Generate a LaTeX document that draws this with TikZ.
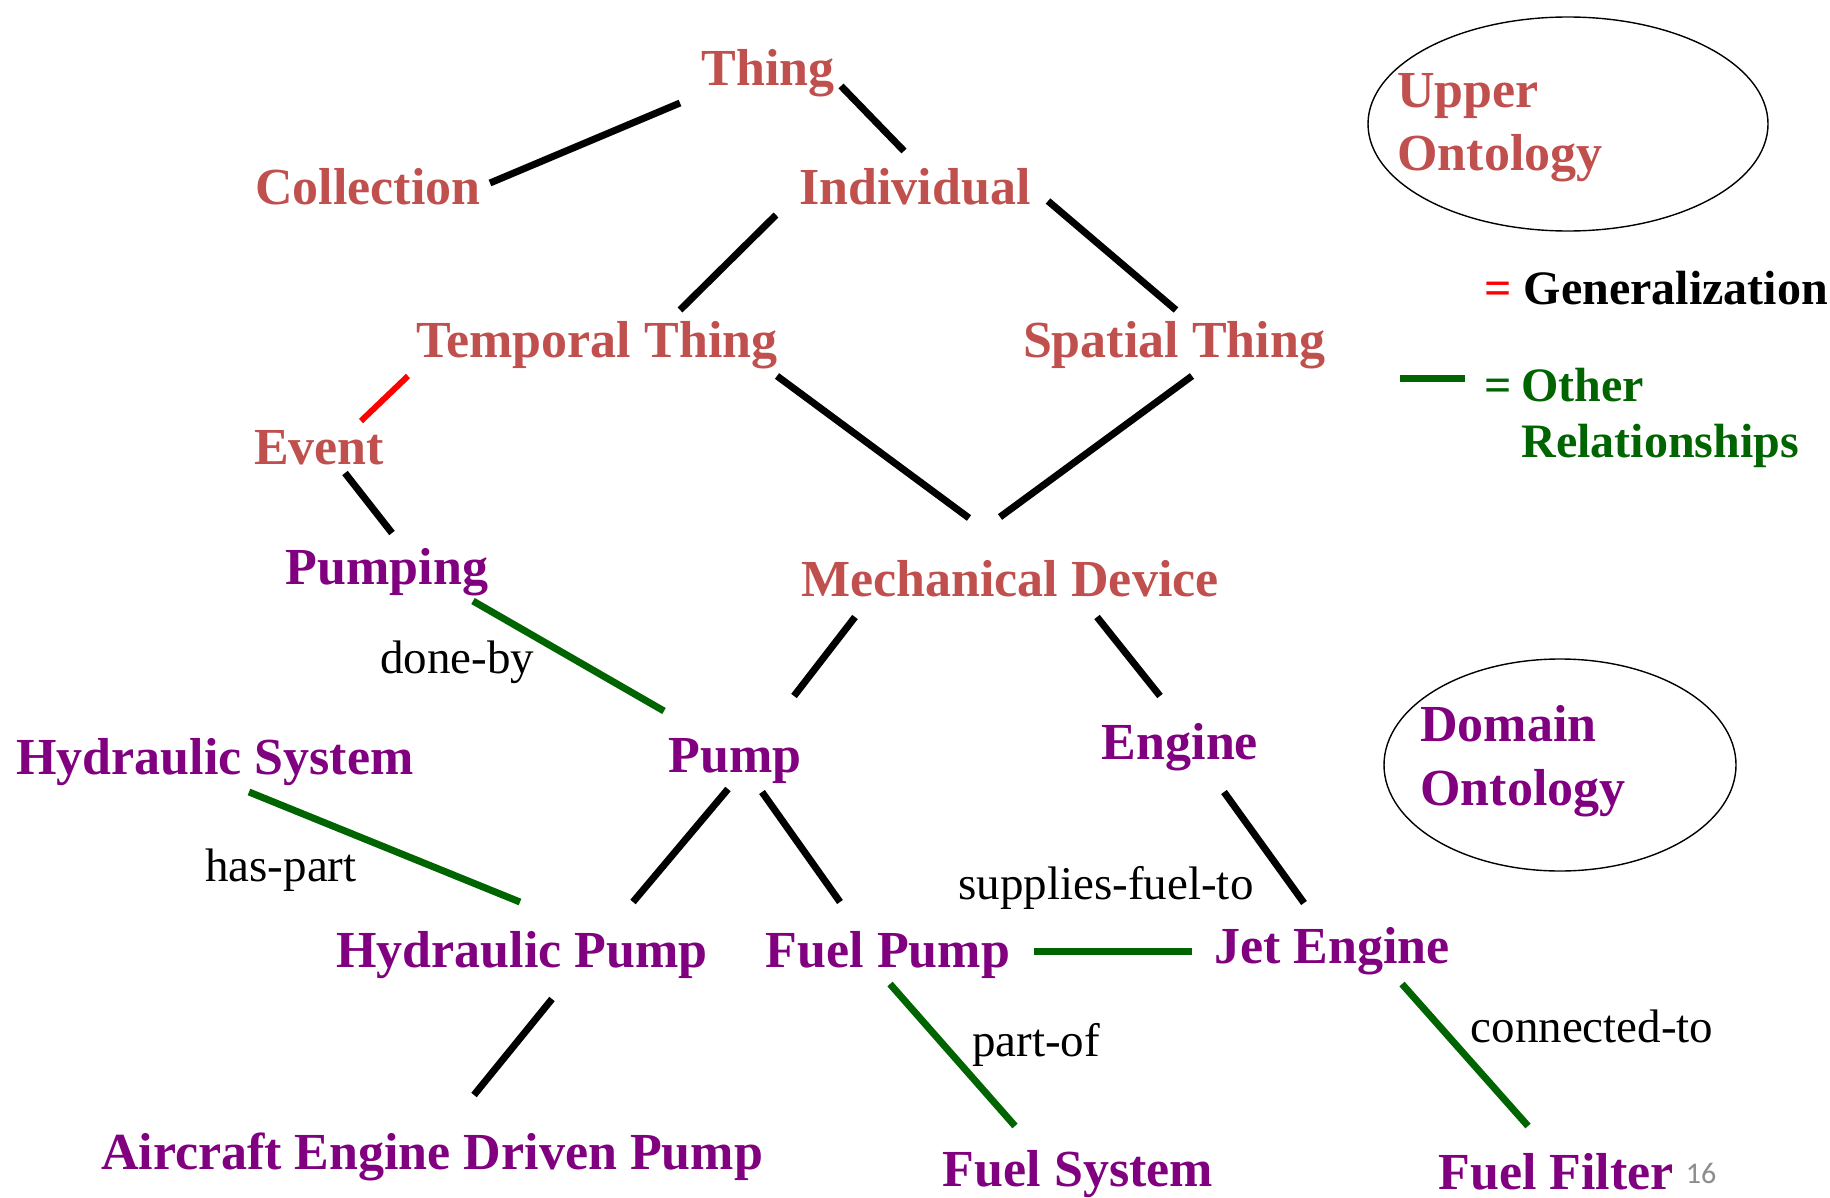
\documentclass[tikz,border=0pt]{standalone}
\usepackage{fontspec}
\setmainfont{Liberation Serif}
\newfontfamily\pagefont{Carlito}
\usetikzlibrary{positioning}

\definecolor{upperred}{HTML}{C0504D}
\definecolor{domainpurple}{HTML}{800080}
\definecolor{relgreen}{HTML}{006400}
\definecolor{pagegray}{HTML}{8C8C8C}

\tikzset{
  concept/.style={font=\fontsize{26}{31}\selectfont\bfseries, inner sep=0pt,
    text height=20.5pt, text depth=2.6pt},
  upperconcept/.style={concept, text=upperred},
  domainconcept/.style={concept, text=domainpurple},
  rellabel/.style={font=\fontsize{23.5}{28}\selectfont, inner sep=0pt,
    text height=18.5pt, text depth=2.4pt},
  legendtext/.style={font=\fontsize{24}{28}\selectfont\bfseries, inner sep=0pt},
  isa/.style={line width=3.5pt, black},
  gen/.style={line width=3pt, red},
  rel/.style={line width=3.5pt, relgreen},
  ontology/.style={line width=0.7pt, black},
}

\begin{document}
\begin{tikzpicture}[x=0.5pt, y=-0.5pt]
  \useasboundingbox (0,0) rectangle (1830,1198);

  % Upper ontology concepts
  \node[upperconcept] (thing) at (768,68) {Thing};
  \node[upperconcept] (coll) at (368,187) {Collection};
  \node[upperconcept] (indiv) at (915,187) {Individual};
  \node[upperconcept] (temp) at (597,340) {Temporal Thing};
  \node[upperconcept] (spat) at (1174,340) {Spatial Thing};
  \node[upperconcept] (event) at (319,447) {Event};
  \node[upperconcept] (mech) at (1010,579) {Mechanical Device};

  % Domain concepts
  \node[domainconcept] (pumping) at (387,567) {Pumping};
  \node[domainconcept] (pump) at (735,755) {Pump};
  \node[domainconcept] (engine) at (1180,742) {Engine};
  \node[domainconcept] (hydsys) at (215,757) {Hydraulic System};
  \node[domainconcept] (hydpump) at (522,950) {Hydraulic Pump};
  \node[domainconcept] (fuelpump) at (888,950) {Fuel Pump};
  \node[domainconcept] (jet) at (1332,946) {Jet Engine};
  \node[domainconcept] (aircraft) at (432,1152) {Aircraft Engine Driven Pump};
  \node[domainconcept] (fuelsys) at (1078,1169) {Fuel System};
  \node[domainconcept] (filter) at (1556,1172) {Fuel Filter};

  % Relation labels
  \node[rellabel] (doneby) at (457,657) {done-by};
  \node[rellabel] (haspart) at (281,865) {has-part};
  \node[rellabel] (supplies) at (1106,883) {supplies-fuel-to};
  \node[rellabel] (partof) at (1036,1040) {part-of};
  \node[rellabel] (connto) at (1592,1026) {connected-to};

  % Generalization links
  \draw[isa] ([shift={(-88,35)}]thing.center) -- ([shift={(122,-4)}]coll.center);
  \draw[isa] ([shift={(73,18)}]thing.center) -- ([shift={(-11,-36)}]indiv.center);
  \draw[isa] ([shift={(-139,28)}]indiv.center) -- ([shift={(83,-30)}]temp.center);
  \draw[isa] ([shift={(133,14)}]indiv.center) -- ([shift={(2,-30)}]spat.center);
  \draw[gen] ([shift={(-189,36)}]temp.center) -- ([shift={(42,-26)}]event.center);
  \draw[isa] ([shift={(26,26)}]event.center) -- ([shift={(5,-34)}]pumping.center);
  \draw[isa] ([shift={(180,36)}]temp.center) -- ([shift={(-41,-61)}]mech.center);
  \draw[isa] ([shift={(18,36)}]spat.center) -- ([shift={(-10,-62)}]mech.center);
  \draw[isa] ([shift={(-155,38)}]mech.center) -- ([shift={(59,-59)}]pump.center);
  \draw[isa] ([shift={(87,38)}]mech.center) -- ([shift={(-20,-46)}]engine.center);
  \draw[isa] ([shift={(-7,34)}]pump.center) -- ([shift={(111,-48)}]hydpump.center);
  \draw[isa] ([shift={(27,37)}]pump.center) -- ([shift={(-48,-48)}]fuelpump.center);
  \draw[isa] ([shift={(44,50)}]engine.center) -- ([shift={(-28,-43)}]jet.center);
  \draw[isa] ([shift={(30,49)}]hydpump.center) -- ([shift={(42,-57)}]aircraft.center);

  % Other relationships
  \draw[rel] ([shift={(86,34)}]pumping.center) -- ([shift={(-71,-44)}]pump.center);
  \draw[rel] ([shift={(34,35)}]hydsys.center) -- ([shift={(-2,-48)}]hydpump.center);
  \draw[rel] ([shift={(146,1)}]fuelpump.center) -- ([shift={(-140,5)}]jet.center);
  \draw[rel] ([shift={(2,34)}]fuelpump.center) -- ([shift={(-63,-43)}]fuelsys.center);
  \draw[rel] ([shift={(70,38)}]jet.center) -- ([shift={(-28,-46)}]filter.center);

  % Ontology bubbles
  \draw[ontology] (1568,124) ellipse [x radius=200, y radius=107];
  \node[legendtext, font=\fontsize{26}{31.5}\selectfont\bfseries, text=upperred,
    align=left, anchor=west] (upperlbl) at (1397,128) {Upper\\Ontology};
  \draw[ontology] (1560,765) ellipse [x radius=176, y radius=106];
  \node[legendtext, font=\fontsize{26}{32}\selectfont\bfseries, text=domainpurple,
    align=left, anchor=west] (domainlbl) at (1420,761) {Domain\\Ontology};

  % Legend
  \node[legendtext, anchor=base west] (genlbl) at (1484,304)
    {\textcolor{red}{=} Generalization};
  \coordinate (lgA) at (1400,378);
  \coordinate (lgB) at (1465,378);
  \draw[rel] (lgA) -- (lgB);
  \node[legendtext, text=relgreen, anchor=base west] (lgeq) at (1484,401) {=};
  \node[legendtext, text=relgreen, align=left, anchor=west] (otherlbl)
    at (1521,418) {Other\\Relationships};

  % Slide number
  \node[font=\pagefont\fontsize{15}{18}\selectfont, text=pagegray, inner sep=0pt]
    (pageno) at (1701,1173) {16};
\end{tikzpicture}
\end{document}
